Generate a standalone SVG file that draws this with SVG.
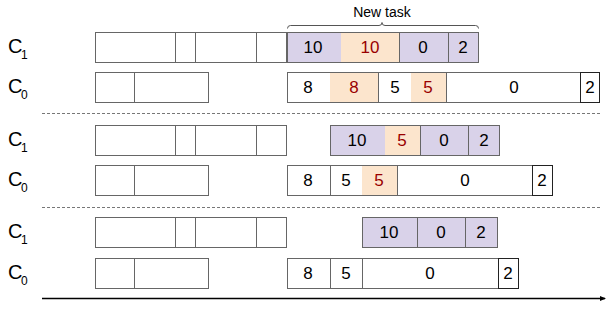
<svg xmlns="http://www.w3.org/2000/svg" width="606" height="328" viewBox="0 0 606 328">
<style>
.bg{fill:#ffffff}
.box{fill:#ffffff;stroke:#666666;stroke-width:1}
.p{fill:#d9d2e9;stroke:#666666;stroke-width:1}
.o{fill:#fce5cd;stroke:none}
.w{fill:#ffffff;stroke:#666666;stroke-width:1}
.ln{stroke:#666666;stroke-width:1}
.t{font-family:"Liberation Sans",Arial,sans-serif;font-size:17px;fill:#000000;text-anchor:middle}
.r{fill:#990000}
.lab{font-family:"Liberation Sans",Arial,sans-serif;font-size:20px;fill:#000000}
.sub{font-family:"Liberation Sans",Arial,sans-serif;font-size:12px;fill:#000000}
.dash{stroke:#777777;stroke-width:1;stroke-dasharray:3 2}
</style>
<defs>
<marker id="ah" markerWidth="6" markerHeight="6" refX="5" refY="3" orient="auto" markerUnits="userSpaceOnUse">
<path d="M0,0.5 L6,3 L0,5.5 z" fill="#000000"/>
</marker>
</defs>
<rect class="bg" x="0" y="0" width="606" height="328"/>

<g id="labels">
<text class="lab" x="8" y="53">C</text><text class="sub" x="21" y="59">1</text>
<text class="lab" x="8" y="93">C</text><text class="sub" x="21" y="99">0</text>
<text class="lab" x="8" y="146">C</text><text class="sub" x="21" y="152">1</text>
<text class="lab" x="8" y="186">C</text><text class="sub" x="21" y="192">0</text>
<text class="lab" x="8" y="238">C</text><text class="sub" x="21" y="244">1</text>
<text class="lab" x="8" y="279">C</text><text class="sub" x="21" y="285">0</text>
</g>

<g id="left-c1-1">
<rect class="box" x="95.5" y="32.5" width="191" height="30"/>
<line class="ln" x1="175.5" y1="32.5" x2="175.5" y2="62.5"/>
<line class="ln" x1="195.5" y1="32.5" x2="195.5" y2="62.5"/>
<line class="ln" x1="256.5" y1="32.5" x2="256.5" y2="62.5"/>
</g>
<g id="left-c0-1">
<rect class="box" x="95.5" y="72.5" width="113" height="30"/>
<line class="ln" x1="134.5" y1="72.5" x2="134.5" y2="102.5"/>
</g>
<g id="left-c1-2">
<rect class="box" x="95.5" y="125.5" width="191" height="30"/>
<line class="ln" x1="175.5" y1="125.5" x2="175.5" y2="155.5"/>
<line class="ln" x1="195.5" y1="125.5" x2="195.5" y2="155.5"/>
<line class="ln" x1="256.5" y1="125.5" x2="256.5" y2="155.5"/>
</g>
<g id="left-c0-2">
<rect class="box" x="95.5" y="165.5" width="113" height="30"/>
<line class="ln" x1="134.5" y1="165.5" x2="134.5" y2="195.5"/>
</g>
<g id="left-c1-3">
<rect class="box" x="95.5" y="217.5" width="191" height="30"/>
<line class="ln" x1="175.5" y1="217.5" x2="175.5" y2="247.5"/>
<line class="ln" x1="195.5" y1="217.5" x2="195.5" y2="247.5"/>
<line class="ln" x1="256.5" y1="217.5" x2="256.5" y2="247.5"/>
</g>
<g id="left-c0-3">
<rect class="box" x="95.5" y="258.5" width="113" height="30"/>
<line class="ln" x1="134.5" y1="258.5" x2="134.5" y2="288.5"/>
</g>

<!-- Section 1 -->
<g id="newtask">
<path d="M287.5,28.5 Q287.5,25.5 290.5,25.5 L379,25.5 Q382,25.5 382,22.5 Q382,25.5 385,25.5 L475.5,25.5 Q478.5,25.5 478.5,28.5" fill="none" stroke="#555555" stroke-width="1"/>
<text x="382" y="17" font-family="Liberation Sans, Arial, sans-serif" font-size="14" text-anchor="middle" fill="#000000">New task</text>
</g>
<g id="c1-row1">
<rect class="p" x="287.5" y="32.5" width="191" height="30"/>
<rect class="o" x="341" y="33" width="58" height="29"/>
<line class="ln" x1="399.5" y1="32.5" x2="399.5" y2="62.5"/>
<line class="ln" x1="448.5" y1="32.5" x2="448.5" y2="62.5"/>
<text class="t" x="313" y="53">10</text>
<text class="t r" x="370" y="53">10</text>
<text class="t" x="423" y="53">0</text>
<text class="t" x="463" y="53">2</text>
</g>
<g id="c0-row1">
<rect class="w" x="287.5" y="72.5" width="312" height="30"/>
<rect class="o" x="330" y="73" width="48" height="29"/>
<rect class="o" x="411" y="73" width="35" height="29"/>
<line class="ln" x1="378.5" y1="72.5" x2="378.5" y2="102.5"/>
<line class="ln" x1="446.5" y1="72.5" x2="446.5" y2="102.5"/>
<rect x="580.5" y="72.5" width="19" height="30" fill="none" stroke="#222222" stroke-width="1"/>
<text class="t" x="308" y="93">8</text>
<text class="t r" x="354" y="93">8</text>
<text class="t" x="395" y="93">5</text>
<text class="t r" x="428" y="93">5</text>
<text class="t" x="514" y="93">0</text>
<text class="t" x="590" y="93">2</text>
</g>

<g id="dividers">
<line class="dash" x1="42" y1="113.5" x2="600" y2="113.5"/>
<line class="dash" x1="42" y1="207.5" x2="600" y2="207.5"/>
</g>

<!-- Section 2 -->
<g id="c1-row2">
<rect class="p" x="330.5" y="125.5" width="169" height="30"/>
<rect class="o" x="385" y="126" width="35" height="29"/>
<line class="ln" x1="420.5" y1="125.5" x2="420.5" y2="155.5"/>
<line class="ln" x1="468.5" y1="125.5" x2="468.5" y2="155.5"/>
<text class="t" x="357" y="146">10</text>
<text class="t r" x="402" y="146">5</text>
<text class="t" x="444" y="146">0</text>
<text class="t" x="484" y="146">2</text>
</g>
<g id="c0-row2">
<rect class="w" x="287.5" y="165.5" width="265" height="30"/>
<rect class="o" x="362" y="166" width="35" height="29"/>
<line class="ln" x1="330.5" y1="165.5" x2="330.5" y2="195.5"/>
<line class="ln" x1="397.5" y1="165.5" x2="397.5" y2="195.5"/>
<rect x="532.5" y="165.5" width="20" height="30" fill="none" stroke="#222222" stroke-width="1"/>
<text class="t" x="308" y="186">8</text>
<text class="t" x="346" y="186">5</text>
<text class="t r" x="379" y="186">5</text>
<text class="t" x="465" y="186">0</text>
<text class="t" x="542" y="186">2</text>
</g>

<!-- Section 3 -->
<g id="c1-row3">
<rect class="p" x="362.5" y="217.5" width="135" height="30"/>
<line class="ln" x1="417.5" y1="217.5" x2="417.5" y2="247.5"/>
<line class="ln" x1="465.5" y1="217.5" x2="465.5" y2="247.5"/>
<text class="t" x="389" y="238">10</text>
<text class="t" x="441" y="238">0</text>
<text class="t" x="481" y="238">2</text>
</g>
<g id="c0-row3">
<rect class="w" x="287.5" y="258.5" width="231" height="30"/>
<line class="ln" x1="330.5" y1="258.5" x2="330.5" y2="288.5"/>
<line class="ln" x1="362.5" y1="258.5" x2="362.5" y2="288.5"/>
<rect x="498.5" y="258.5" width="20" height="30" fill="none" stroke="#222222" stroke-width="1"/>
<text class="t" x="308" y="279">8</text>
<text class="t" x="346" y="279">5</text>
<text class="t" x="430" y="279">0</text>
<text class="t" x="508" y="279">2</text>
</g>

<g id="connectors">
<line x1="42" y1="298.5" x2="605" y2="298.5" stroke="#000000" stroke-width="1.5" marker-end="url(#ah)"/>
</g>
</svg>
